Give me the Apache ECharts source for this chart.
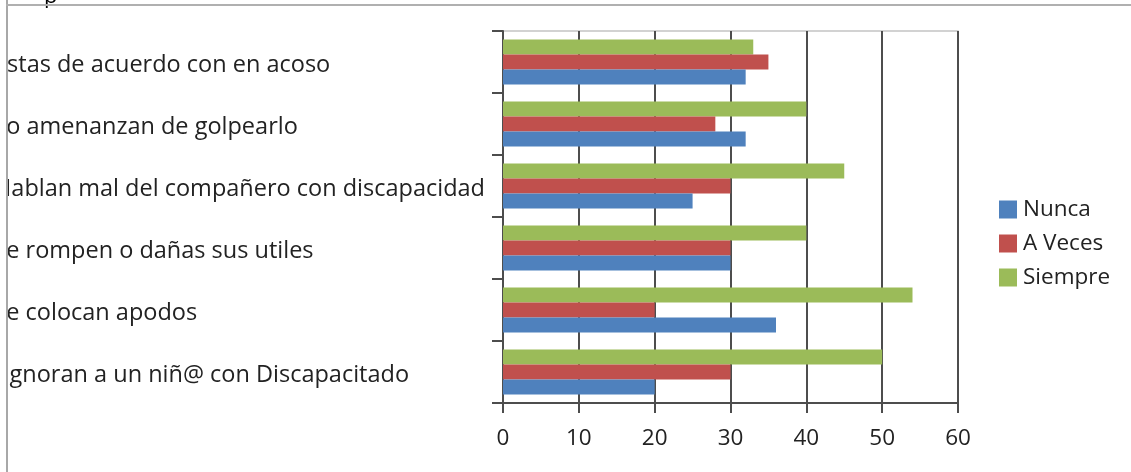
<!DOCTYPE html>
<html>
<head>
<meta charset="utf-8">
<script src="https://cdn.jsdelivr.net/npm/echarts@6/dist/echarts.min.js"></script>
<style>
  html, body { margin: 0; padding: 0; background: #fff; }
  #wrap { position: relative; width: 1131px; height: 472px; overflow: hidden; }
  #chart { position: absolute; left: 0; top: 0; width: 1131px; height: 472px; }
  #clipLeft { position: absolute; left: 0; top: 0; width: 6px; height: 472px; background: #fff; border-right: 2px solid #a8a8a8; z-index: 5; }
  #topBorder { position: absolute; left: 6px; top: 4px; width: 1125px; height: 0; border-top: 2px solid #b0b0b0; z-index: 5; }
  #titleFrag { position: absolute; left: 44px; top: -21px; font: 22px "Open Sans", sans-serif; color: #000; z-index: 4; }
</style>
</head>
<body>
<div id="wrap">
  <div id="chart"></div>
  <div id="clipLeft"></div>
  <div id="topBorder"></div>
  <div id="titleFrag">p</div>
</div>
<script>
// Categories listed bottom-to-top (Excel order)
const categories = [
  "Ignoran a un niñ@ con Discapacitado",
  "Le colocan apodos",
  "Le rompen o dañas sus utiles",
  "Hablan mal del compañero con discapacidad",
  "Lo amenanzan de golpearlo",
  "Estas de acuerdo con en acoso"
];
const seriesNames = ["Nunca", "A Veces", "Siempre"];
const nunca   = [20, 36, 30, 25, 32, 32];
const aVeces  = [30, 20, 30, 30, 28, 35];
const siempre = [50, 54, 40, 45, 40, 33];
const xTicks = [0, 10, 20, 30, 40, 50, 60];

const colors = ["#4F81BD", "#C0504D", "#9BBB59"];
const font = '"Open Sans", sans-serif';
const dark = "#4d4d4d";

const labelBase = { fontFamily: font, fontSize: 23.5, color: '#222', padding: [6, 0, 0, 0] };

const chart = echarts.init(document.getElementById('chart'), null, { renderer: 'canvas' });
const values = [nunca, aVeces, siempre];
// ECharts puts the first series at the top of each group for horizontal bars;
// reverse so that "Nunca" sits at the bottom like the reference.
const order = [2, 1, 0];
chart.setOption({
  animation: false,
  backgroundColor: '#fff',
  grid: {
    left: 503, right: 173, top: 31, bottom: 69,
    containLabel: false,
    outerBoundsMode: 'none',
    show: true, borderColor: '#c4c4c4', borderWidth: 1.5, backgroundColor: 'transparent'
  },
  legend: {
    orient: 'vertical',
    left: 994, top: 193,
    icon: 'rect',
    itemWidth: 18, itemHeight: 18, itemGap: 11,
    data: seriesNames,
    textStyle: { fontFamily: font, fontSize: 22.5, color: '#222', lineHeight: 18, padding: [0, 0, 0, 1] }
  },
  xAxis: {
    type: 'value',
    min: xTicks[0], max: xTicks[xTicks.length - 1], interval: 10,
    axisLine: { show: true, lineStyle: { color: dark, width: 2 } },
    axisTick: { show: true, length: 10, lineStyle: { color: dark, width: 2 } },
    splitLine: { show: true, lineStyle: { color: dark, width: 2 } },
    axisLabel: { fontFamily: font, fontSize: 22.5, color: '#222', margin: 24 }
  },
  yAxis: {
    type: 'category',
    data: categories,
    axisLine: { show: true, lineStyle: { color: dark, width: 2 } },
    axisTick: { show: true, length: 11, lineStyle: { color: dark, width: 2 } },
    axisLabel: {
      fontFamily: font, fontSize: 23.5, color: '#222', align: 'left', margin: 509,
      formatter: v => (v === categories[0] ? '{p|' + v + '}' : '{n|' + v + '}'),
      rich: {
        n: labelBase,
        p: Object.assign({}, labelBase, { padding: [6, 0, 0, 9] })
      }
    }
  },
  series: order.map(i => ({
    name: seriesNames[i],
    type: 'bar',
    data: values[i],
    barWidth: 15,
    barGap: '0%',
    barCategoryGap: '26%',
    itemStyle: { color: colors[i] }
  }))
});
</script>
</body>
</html>
